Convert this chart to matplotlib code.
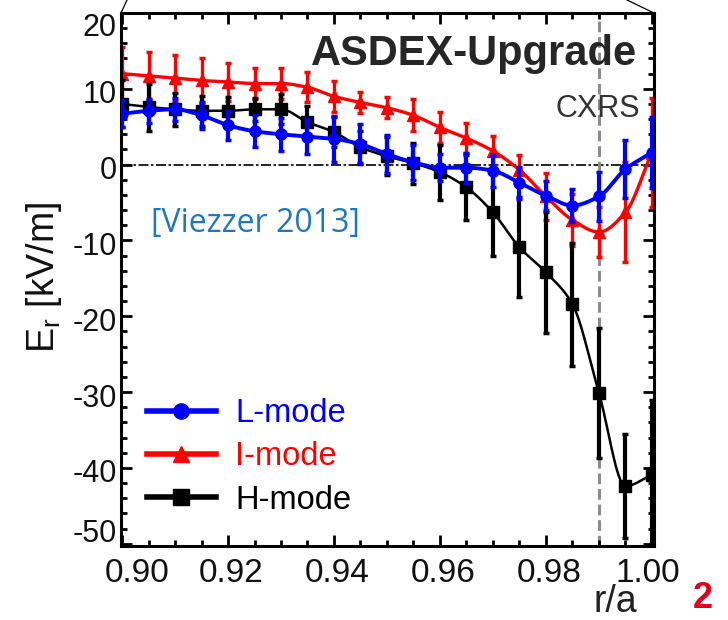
import numpy as np
import matplotlib
matplotlib.use("Agg")
import matplotlib.pyplot as plt
from matplotlib.lines import Line2D
from matplotlib.ticker import MultipleLocator
from matplotlib.transforms import ScaledTranslation

# ---------------- data ----------------
r_a = [0.900, 0.905, 0.910, 0.915, 0.920, 0.925, 0.930, 0.935, 0.940, 0.945,
       0.950, 0.955, 0.960, 0.965, 0.970, 0.975, 0.980, 0.985, 0.990, 0.995, 1.000]

er_L = [6.7, 7.1, 7.3, 6.5, 5.2, 4.4, 4.0, 3.7, 3.4, 2.7, 1.4, 0.3, -0.4, -0.4,
        -0.8, -2.4, -4.1, -5.4, -4.2, -0.6, 1.6]
err_L = [1.8, 1.6, 1.5, 1.8, 1.9, 2.1, 2.2, 2.3, 3.0, 2.6, 2.5, 2.3, 1.8, 2.0,
         2.1, 2.1, 1.9, 2.2, 3.2, 3.8, 4.7]

er_I = [12.0, 11.7, 11.4, 11.1, 10.9, 10.7, 10.7, 10.2, 9.0, 8.2, 7.5, 6.5, 4.9,
        3.5, 1.8, -0.7, -4.2, -7.3, -8.9, -6.3, 1.6]
err_I = [3.5, 3.1, 3.0, 3.0, 2.5, 2.0, 2.0, 2.0, 2.0, 1.4, 1.4, 2.1, 2.1, 2.0,
         2.0, 2.0, 3.1, 3.4, 3.3, 6.6, 7.2]

er_H = [8.0, 7.6, 7.3, 7.1, 7.1, 7.3, 7.3, 5.6, 4.3, 2.3, 1.1, 0.2, -1.0, -3.0,
        -6.3, -10.9, -14.2, -18.4, -30.1, -42.4, -40.9]
err_H = [3.1, 3.1, 2.2, 2.0, 1.8, 1.5, 2.0, 2.1, 2.0, 2.1, 2.5, 2.7, 3.6, 4.3,
         5.8, 6.6, 8.0, 8.1, 8.6, 6.9, 9.9]

labels = ["L-mode", "I-mode", "H-mode"]
x_ticks = [0.90, 0.92, 0.94, 0.96, 0.98, 1.00]
y_ticks = [-50, -40, -30, -20, -10, 0, 10, 20]
cxrs_pos = 0.990

# ---------------- helpers ----------------
def pchip(x, y, xs):
    x = np.asarray(x, float); y = np.asarray(y, float)
    h = np.diff(x); delta = np.diff(y) / h
    n = len(x); d = np.zeros(n)
    for k in range(1, n - 1):
        if delta[k - 1] * delta[k] > 0:
            w1 = 2 * h[k] + h[k - 1]; w2 = h[k] + 2 * h[k - 1]
            d[k] = (w1 + w2) / (w1 / delta[k - 1] + w2 / delta[k])
    d[0] = delta[0]; d[-1] = delta[-1]
    idx = np.clip(np.searchsorted(x, xs) - 1, 0, n - 2)
    t = (xs - x[idx]) / h[idx]
    h00 = 2 * t**3 - 3 * t**2 + 1; h10 = t**3 - 2 * t**2 + t
    h01 = -2 * t**3 + 3 * t**2; h11 = t**3 - t**2
    return h00 * y[idx] + h10 * h[idx] * d[idx] + h01 * y[idx + 1] + h11 * h[idx] * d[idx + 1]

REG = ["Liberation Sans", "DejaVu Sans"]

# ---------------- figure ----------------
W, H = 728, 620
fig = plt.figure(figsize=(W / 100, H / 100), dpi=100)
ax = fig.add_axes([121 / W, 1 - 546 / H, (654 - 121) / W, (546 - 13) / H])
ax.set_xlim(0.8998, 1.0004)
ax.set_ylim(-50.3, 20)

xs = np.linspace(r_a[0], r_a[-1], 600)

series = [
    (er_I, err_I, "#ff0000", "^", 9, 2.4, 2.4, 2),
    (er_H, err_H, "#000000", "s", 8, 1.8, 3.0, 3),
    (er_L, err_L, "#0000ff", "o", 8, 2.8, 3.0, 4),
]
for vals, errs, col, mk, ms, lw, elw, z in series:
    ax.plot(xs, pchip(r_a, vals, xs), color=col, lw=lw, zorder=z)
    ax.errorbar(r_a, vals, yerr=errs, fmt=mk, color=col, ms=ms, elinewidth=elw,
                capsize=2.5, capthick=2.5, zorder=z, mec=col, mfc=col)

ax.axhline(0, color="black", lw=1.2, ls=(0, (6, 1.5, 1.5, 1.5)), zorder=1)
ax.axvline(cxrs_pos, color="#8c8c8c", lw=2.2, ls=(0, (3.5, 1.6)), zorder=1)

# ticks
ax.set_xticks(x_ticks)
ax.set_xticklabels([f"{v:.2f}" for v in x_ticks])
ax.set_yticks(y_ticks)
ax.set_yticklabels([str(v) for v in y_ticks])
ax.xaxis.set_minor_locator(MultipleLocator(0.005))
ax.yaxis.set_minor_locator(MultipleLocator(2))
ax.tick_params(which="both", direction="in", top=True, right=True, width=2, color="black")
ax.tick_params(which="major", length=8)
ax.tick_params(which="minor", length=4.3)
ax.tick_params(axis="x", pad=9)
ax.tick_params(axis="y", pad=3)
for lab, v in zip(ax.get_xticklabels(), x_ticks):
    lab.set_family(REG); lab.set_fontsize(24); lab.set_color("#111111")
    dx = 15 if v == 0.90 else (-4 if v == 1.00 else 3)
    lab.set_transform(lab.get_transform() + ScaledTranslation(dx / 100, 0, fig.dpi_scale_trans))
for lab, v in zip(ax.get_yticklabels(), y_ticks):
    lab.set_family(REG); lab.set_fontsize(22); lab.set_color("#111111")
    dy = {20: -11, -50: 13}.get(v, -3)
    lab.set_transform(lab.get_transform() + ScaledTranslation(0, dy / 100, fig.dpi_scale_trans))
for sp in ax.spines.values():
    sp.set_linewidth(2.2)

# legend
handles = [
    Line2D([], [], color="#0000ff", lw=4, marker="o", ms=11),
    Line2D([], [], color="#ff0000", lw=4, marker="^", ms=12),
    Line2D([], [], color="#000000", lw=4, marker="s", ms=11),
]
leg = ax.legend(handles, labels, loc="upper left",
                bbox_to_anchor=(147 / W, 1 - 398 / H), bbox_transform=fig.transFigure,
                frameon=False, prop={"family": REG, "size": 23.5},
                handlelength=2.1, handletextpad=0.6, labelspacing=0.38,
                borderpad=0, borderaxespad=0)
for txt, c in zip(leg.get_texts(), ["#0000ff", "#ff0000", "#000000"]):
    txt.set_color(c)

# texts
fig.text(637 / W, 1 - 65 / H, "ASDEX-Upgrade", ha="right", va="baseline",
         fontsize=30, fontweight="bold", family=REG, color="#262626")
fig.text(640 / W, 1 - 117 / H, "CXRS", ha="right", va="baseline",
         fontsize=22, family=REG, color="#333333")
fig.text(151 / W, 1 - 232 / H, "[Viezzer 2013]", ha="left", va="baseline",
         fontsize=23, family=["Open Sans", "DejaVu Sans"], color="#1e78c0")
fig.text(44 / W, 1 - 277 / H, r"E$_\mathregular{r}$ [kV/m]", rotation=90,
         ha="center", va="center", fontsize=27, family=REG, color="#111111")
fig.text(615 / W, 1 - 612 / H, "r/a", ha="center", va="baseline",
         fontsize=27, family=REG, color="#222222")
fig.text(703 / W, 1 - 608 / H, "2", ha="center", va="baseline",
         fontsize=26, fontweight="bold", family=REG, color="#e2001a")

# callout lines at the top
fig.add_artist(Line2D([121 / W, 127 / W], [1 - 13 / H, 1.0], color="black", lw=0.9,
                      transform=fig.transFigure))
fig.add_artist(Line2D([627 / W, 654 / W], [1.0, 1 - 13 / H], color="black", lw=0.9,
                      transform=fig.transFigure))

fig.savefig("out.png", dpi=100)
